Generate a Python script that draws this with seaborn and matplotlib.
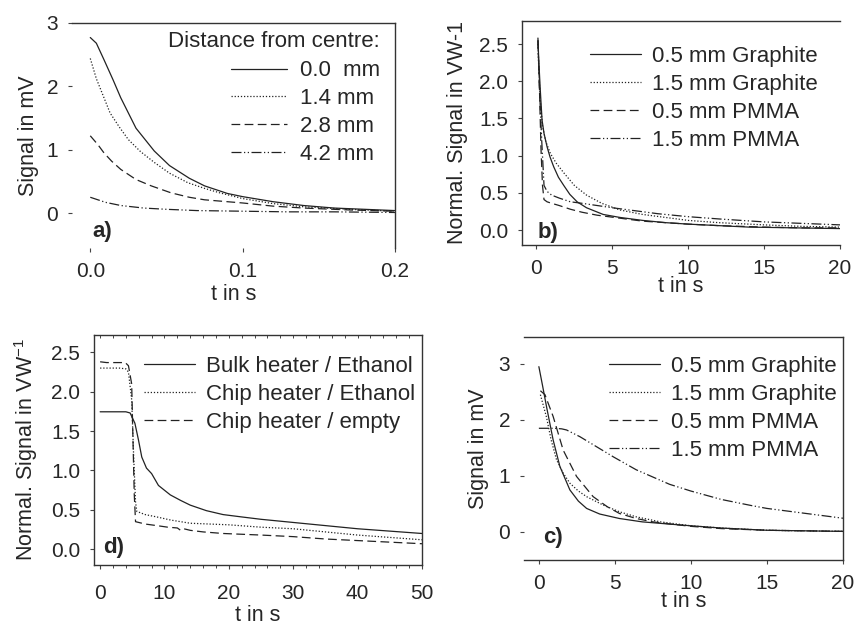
import numpy as np
import pandas as pd
import seaborn as sns
import matplotlib.pyplot as plt
from matplotlib.ticker import MultipleLocator

sns.set_style("ticks")
plt.rcParams['font.family'] = ['Liberation Sans', 'DejaVu Sans']
plt.rcParams['mathtext.fontset'] = 'custom'
plt.rcParams['mathtext.rm'] = 'Liberation Sans'

# ---- a) distance from centre ----
a_t00 = [0, 0.004, 0.009, 0.015, 0.02, 0.03, 0.042, 0.052, 0.065, 0.075, 0.09, 0.1, 0.12, 0.14, 0.16, 0.18, 0.2]
a_v00 = [2.77, 2.68, 2.42, 2.10, 1.82, 1.34, 0.98, 0.75, 0.55, 0.43, 0.31, 0.26, 0.18, 0.12, 0.08, 0.06, 0.04]
a_t14 = [0, 0.004, 0.008, 0.013, 0.019, 0.025, 0.033, 0.042, 0.052, 0.064, 0.075, 0.085, 0.1, 0.12, 0.14, 0.17, 0.2]
a_v14 = [2.44, 2.12, 1.88, 1.58, 1.36, 1.16, 0.97, 0.80, 0.63, 0.48, 0.39, 0.32, 0.23, 0.15, 0.10, 0.06, 0.03]
a_t28 = [0, 0.005, 0.009, 0.014, 0.02, 0.03, 0.04, 0.053, 0.065, 0.075, 0.09, 0.1, 0.12, 0.14, 0.17, 0.2]
a_v28 = [1.22, 1.08, 0.95, 0.82, 0.69, 0.53, 0.43, 0.32, 0.25, 0.21, 0.18, 0.16, 0.11, 0.08, 0.05, 0.03]
a_t42 = [0, 0.01, 0.02, 0.035, 0.05, 0.07, 0.1, 0.13, 0.16, 0.2]
a_v42 = [0.25, 0.17, 0.12, 0.08, 0.06, 0.04, 0.03, 0.02, 0.02, 0.01]
a_labels = ["0.0  mm", "1.4 mm", "2.8 mm", "4.2 mm"]

# ---- b) normalised signal, graphite / PMMA ----
b_t_g05 = [0.1, 0.15, 0.25, 0.37, 0.5, 0.7, 0.9, 1.14, 1.45, 1.8, 2.2, 2.68, 3.3, 4.4, 5.5, 7, 8.5, 10, 12, 14, 17, 20]
b_v_g05 = [2.58, 2.3, 1.9, 1.48, 1.30, 1.12, 0.98, 0.85, 0.71, 0.60, 0.48, 0.38, 0.30, 0.21, 0.17, 0.13, 0.10, 0.08, 0.06, 0.04, 0.03, 0.02]
b_t_g15 = [0.1, 0.15, 0.25, 0.4, 0.6, 0.92, 1.3, 1.8, 2.5, 3.3, 4.3, 5.5, 7, 8.5, 10, 12, 15, 17.5, 20]
b_v_g15 = [2.5, 2.2, 1.75, 1.40, 1.20, 1.03, 0.90, 0.77, 0.60, 0.47, 0.36, 0.27, 0.21, 0.17, 0.13, 0.10, 0.07, 0.05, 0.04]
b_t_p05 = [0.1, 0.2, 0.3, 0.4, 0.5, 0.7, 1.0, 1.5, 2.24, 3, 4, 5.5, 7, 8.5, 10, 12, 15, 17.5, 20]
b_v_p05 = [2.55, 1.9, 1.1, 0.6, 0.41, 0.38, 0.36, 0.33, 0.28, 0.24, 0.20, 0.16, 0.12, 0.10, 0.08, 0.06, 0.04, 0.03, 0.03]
b_t_p15 = [0.1, 0.2, 0.35, 0.5, 0.7, 1.0, 1.5, 2.24, 3, 4, 5, 6.5, 8, 10, 12, 15, 17.5, 20]
b_v_p15 = [2.55, 1.9, 1.2, 0.6, 0.52, 0.47, 0.43, 0.38, 0.36, 0.33, 0.30, 0.26, 0.22, 0.18, 0.15, 0.11, 0.09, 0.07]
bc_labels = ["0.5 mm Graphite", "1.5 mm Graphite", "0.5 mm PMMA", "1.5 mm PMMA"]

# ---- c) signal in mV, graphite / PMMA ----
c_t_g05 = [0, 0.25, 0.5, 0.94, 1.38, 2.04, 2.6, 3.14, 4, 5.3, 6.8, 8.6, 10, 12, 15, 17.5, 20]
c_v_g05 = [2.95, 2.6, 2.24, 1.64, 1.17, 0.75, 0.55, 0.42, 0.32, 0.24, 0.18, 0.14, 0.11, 0.07, 0.03, 0.02, 0.01]
c_t_g15 = [0.1, 0.5, 0.8, 1.16, 1.6, 2.04, 2.6, 3.14, 4.23, 5.3, 6.4, 8, 10, 12, 15, 17.5, 20]
c_v_g15 = [2.45, 2.05, 1.65, 1.29, 1.05, 0.87, 0.73, 0.63, 0.48, 0.36, 0.27, 0.18, 0.11, 0.07, 0.03, 0.02, 0.01]
c_t_p05 = [0.1, 0.4, 0.94, 1.6, 2.48, 3.57, 4.5, 5.3, 6.4, 7.5, 8.7, 10, 12, 15, 17.5, 20]
c_v_p05 = [2.52, 2.45, 2.06, 1.46, 0.99, 0.63, 0.45, 0.33, 0.24, 0.18, 0.14, 0.10, 0.06, 0.03, 0.02, 0.01]
c_t_p15 = [0, 0.5, 1.0, 1.5, 1.82, 2.7, 3.8, 4.9, 6.4, 8.6, 10, 12, 14, 15, 17, 20]
c_v_p15 = [1.85, 1.85, 1.85, 1.84, 1.82, 1.70, 1.52, 1.34, 1.11, 0.85, 0.73, 0.58, 0.47, 0.42, 0.35, 0.245]

# ---- d) bulk heater vs chip heater ----
d_t_bulk = [0, 1, 2, 3, 4, 4.66, 5.4, 5.95, 6.47, 7.2, 8.0, 9.06, 10.9, 12.5, 14, 16.5, 19.1, 22, 25, 30, 35, 40, 45, 50]
d_v_bulk = [1.745, 1.745, 1.745, 1.745, 1.745, 1.73, 1.60, 1.39, 1.17, 1.03, 0.96, 0.81, 0.69, 0.62, 0.56, 0.49, 0.44, 0.41, 0.38, 0.34, 0.30, 0.26, 0.23, 0.20]
d_t_chip = [0, 1, 2, 3, 4, 4.4, 4.9, 5.2, 5.5, 5.7, 7, 8.8, 11, 14, 17, 20, 25, 30, 35, 40, 45, 50]
d_v_chip = [2.30, 2.30, 2.30, 2.30, 2.29, 2.25, 1.9, 1.2, 0.6, 0.48, 0.44, 0.41, 0.37, 0.33, 0.32, 0.31, 0.28, 0.26, 0.22, 0.18, 0.15, 0.12]
d_t_empty = [0, 1, 2, 3, 3.9, 4.4, 4.9, 5.1, 5.3, 5.5, 7, 8.8, 10.5, 12, 12.5, 13, 14, 16, 19.1, 25, 30, 35, 40, 45, 50]
d_v_empty = [2.38, 2.37, 2.37, 2.37, 2.37, 2.33, 2.1, 1.4, 0.7, 0.35, 0.32, 0.30, 0.28, 0.27, 0.24, 0.26, 0.24, 0.22, 0.20, 0.18, 0.16, 0.13, 0.11, 0.09, 0.07]
d_labels = ["Bulk heater / Ethanol", "Chip heater / Ethanol", "Chip heater / empty"]

styles = ['-', (0, (1, 1.5)), (0, (7, 3.5)), (0, (8, 2, 1, 2, 1, 2))]
LC = '#222222'
FS = 16      # legend text
LFS = 15.5   # axis labels
TFS = 15     # tick labels


def draw(ax, series, labels):
    for (t, v), lab, ls in zip(series, labels, styles):
        sns.lineplot(x=t, y=v, ax=ax, color=LC, linestyle=ls, linewidth=0.9,
                     label=lab, estimator=None, sort=False)


def style_axes(ax, visible, pad=7):
    for side in ['left', 'right', 'top', 'bottom']:
        ax.spines[side].set_visible(side in visible)
        ax.spines[side].set_color('#333333')
        ax.spines[side].set_linewidth(1.0)
    ax.tick_params(axis='both', labelsize=TFS, length=3, width=0.8, color='#444444', pad=pad)


def add_legend(ax, anchor, **kw):
    ax.legend(fontsize=FS, frameon=False, loc='upper right', bbox_to_anchor=anchor,
              handlelength=2.3, labelspacing=0.31, borderaxespad=0, borderpad=0,
              handletextpad=0.5, **kw)


fig = plt.figure(figsize=(8.57, 6.27), dpi=100)
ax_a = fig.add_axes([0.084, 0.6045, 0.3769, 0.3589])
ax_b = fig.add_axes([0.6091, 0.6093, 0.3711, 0.3573])
ax_d = fig.add_axes([0.1097, 0.0989, 0.3827, 0.3668])
ax_c = fig.add_axes([0.6114, 0.1069, 0.3722, 0.3557])

# a)
draw(ax_a, [(a_t00, a_v00), (a_t14, a_v14), (a_t28, a_v28), (a_t42, a_v42)], a_labels)
ax_a.set_xlim(-0.012, 0.2)
ax_a.set_ylim(-0.55, 3)
ax_a.set_xticks([0.0, 0.1, 0.2])
ax_a.set_xticklabels(["0.0", "0.1", "0.2"])
ax_a.set_yticks([0, 1, 2, 3])
ax_a.set_ylabel("Signal in mV", fontsize=LFS, labelpad=5)
ax_a.set_xlabel("t in s", fontsize=LFS, labelpad=2)
style_axes(ax_a, ['top', 'right'])
ax_a.legend(title="Distance from centre:", title_fontsize=FS, fontsize=FS, frameon=False,
            loc='upper right', bbox_to_anchor=(0.954, 0.964), alignment='right',
            handlelength=2.5, labelspacing=0.31, borderaxespad=0, borderpad=0,
            handletextpad=0.6)
ax_a.get_legend()._legend_box.sep = 6
ax_a.text(0.062, 0.05, "a)", transform=ax_a.transAxes, fontsize=FS, fontweight='bold')

# b)
draw(ax_b, [(b_t_g05, b_v_g05), (b_t_g15, b_v_g15), (b_t_p05, b_v_p05), (b_t_p15, b_v_p15)], bc_labels)
ax_b.set_xlim(-0.95, 20)
ax_b.set_ylim(-0.2, 2.81)
ax_b.set_xticks([0, 5, 10, 15, 20])
ax_b.set_yticks([0, 0.5, 1.0, 1.5, 2.0, 2.5])
ax_b.set_yticklabels(["0.0", "0.5", "1.0", "1.5", "2.0", "2.5"])
ax_b.set_ylabel("Normal. Signal in VW-1", fontsize=LFS, labelpad=8)
ax_b.set_xlabel("t in s", fontsize=LFS, labelpad=-1)
style_axes(ax_b, ['top', 'left', 'bottom'])
add_legend(ax_b, (0.931, 0.888))
ax_b.text(0.05, 0.03, "b)", transform=ax_b.transAxes, fontsize=FS, fontweight='bold')

# d)
draw(ax_d, [(d_t_bulk, d_v_bulk), (d_t_chip, d_v_chip), (d_t_empty, d_v_empty)], d_labels)
ax_d.set_xlim(-0.95, 50)
ax_d.set_ylim(-0.2, 2.72)
ax_d.set_xticks([0, 10, 20, 30, 40, 50])
ax_d.set_yticks([0, 0.5, 1.0, 1.5, 2.0, 2.5])
ax_d.set_yticklabels(["0.0", "0.5", "1.0", "1.5", "2.0", "2.5"])
ax_d.xaxis.set_minor_locator(MultipleLocator(2))
ax_d.set_ylabel(r"Normal. Signal in VW$^{\mathregular{-1}}$", fontsize=LFS, labelpad=8)
ax_d.set_xlabel("t in s", fontsize=LFS, labelpad=1)
style_axes(ax_d, ['top', 'left', 'bottom', 'right'])
ax_d.tick_params(axis='x', which='major', pad=11)
ax_d.tick_params(axis='x', which='minor', length=2.5, width=0.7, color='#444444', bottom=True)
ax_top = ax_d.secondary_xaxis('top')
ax_top.set_xticks([0, 10, 20, 30, 40, 50])
ax_top.xaxis.set_minor_locator(MultipleLocator(2))
ax_top.tick_params(which='both', direction='in', labeltop=False, length=2.5, width=0.7, color='#444444')
ax_top.spines['top'].set_visible(False)
add_legend(ax_d, (0.979, 0.909))
ax_d.text(0.027, 0.05, "d)", transform=ax_d.transAxes, fontsize=FS, fontweight='bold')

# c)
draw(ax_c, [(c_t_g05, c_v_g05), (c_t_g15, c_v_g15), (c_t_p05, c_v_p05), (c_t_p15, c_v_p15)], bc_labels)
ax_c.set_xlim(-0.98, 20)
ax_c.set_ylim(-0.5, 3.48)
ax_c.set_xticks([0, 5, 10, 15, 20])
ax_c.set_yticks([0, 1, 2, 3])
ax_c.set_ylabel("Signal in mV", fontsize=LFS, labelpad=7)
ax_c.set_xlabel("t in s", fontsize=LFS, labelpad=-1)
style_axes(ax_c, ['top', 'right', 'bottom'])
add_legend(ax_c, (0.981, 0.915))
ax_c.text(0.06, 0.075, "c)", transform=ax_c.transAxes, fontsize=FS, fontweight='bold')

fig.savefig("out.png", dpi=100)
